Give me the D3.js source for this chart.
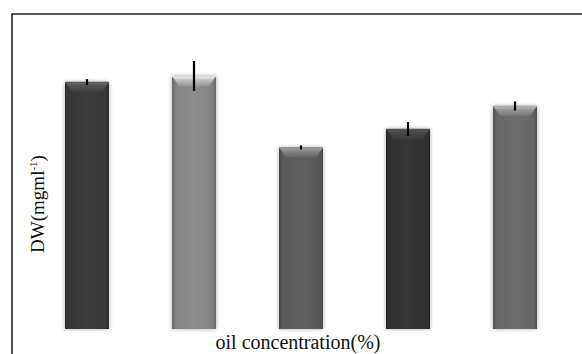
<!DOCTYPE html>
<html>
<head>
<meta charset="utf-8">
<script src="https://cdn.jsdelivr.net/npm/d3@7/dist/d3.min.js"></script>
<style>
  html, body { margin: 0; padding: 0; background: #fff; }
  svg { display: block; }
</style>
</head>
<body>
<svg id="chart" width="582" height="354"></svg>
<script>
// Dry weight by oil concentration
const categories = ["1", "2", "3", "4", "5"];
const values = [2.47, 2.53, 1.815, 2.00, 2.23];
const errors = [0.02, 0.14, 0.01, 0.06, 0.035];
const barColors = ["#3c3c3c", "#8e8e8e", "#606060", "#353535", "#6e6e6e"];
const xTitle = "oil concentration(%)";

const W = 582, H = 354;
const serif = "'Liberation Serif', 'DejaVu Serif', 'Times New Roman', serif";
const svg = d3.select("#chart");
const defs = svg.append("defs");

const plot = { left: 33.5, right: 568.5, top: 14, bottom: 329 };

const x = d3.scaleBand()
  .domain(categories)
  .range([plot.left, plot.right])
  .paddingInner(0.589)
  .paddingOuter(0.2945);

const y = d3.scaleLinear()
  .domain([0, 3.15])
  .range([plot.bottom, plot.top]);

// soft halo behind each bar
const shadow = defs.append("filter").attr("id", "halo")
  .attr("x", "-30%").attr("y", "-10%").attr("width", "160%").attr("height", "120%");
shadow.append("feGaussianBlur").attr("in", "SourceAlpha").attr("stdDeviation", 2.2).attr("result", "b");
shadow.append("feComponentTransfer").attr("in", "b").attr("result", "b2")
  .append("feFuncA").attr("type", "linear").attr("slope", 0.35);
const merge = shadow.append("feMerge");
merge.append("feMergeNode").attr("in", "b2");
merge.append("feMergeNode").attr("in", "SourceGraphic");

// per-bar gradients: darker side edges and a lighter bevelled cap
barColors.forEach((c, i) => {
  const base = d3.color(c);
  const g = defs.append("linearGradient").attr("id", "side" + i)
    .attr("x1", 0).attr("x2", 1).attr("y1", 0).attr("y2", 0);
  [[0, base.darker(0.9)], [0.08, base.darker(0.25)], [0.5, base], [0.92, base.darker(0.25)], [1, base.darker(0.9)]]
    .forEach(([o, col]) => g.append("stop").attr("offset", o).attr("stop-color", col));
  const t = defs.append("linearGradient").attr("id", "cap" + i)
    .attr("x1", 0).attr("x2", 0).attr("y1", 0).attr("y2", 1);
  [[0, base.brighter(1.6)], [0.35, base.brighter(0.9)], [1, base.brighter(0.15)]]
    .forEach(([o, col]) => t.append("stop").attr("offset", o).attr("stop-color", col));
});

// frame
svg.append("path")
  .attr("d", `M12,${H} L12,14 L${W},14`)
  .attr("fill", "none").attr("stroke", "#222").attr("stroke-width", 1.6);

const bars = svg.append("g").selectAll("g.bar")
  .data(categories.map((c, i) => ({ c, v: values[i], e: errors[i], i })))
  .join("g").attr("class", "bar");

bars.append("rect")
  .attr("x", d => x(d.c))
  .attr("y", d => y(d.v))
  .attr("width", x.bandwidth())
  .attr("height", d => y(0) - y(d.v))
  .attr("fill", d => `url(#side${d.i})`)
  .attr("filter", "url(#halo)");

// bevelled top
const capH = 10, inset = 7;
bars.append("path")
  .attr("d", d => {
    const x0 = x(d.c), x1 = x0 + x.bandwidth(), yt = y(d.v);
    return `M${x0},${yt} L${x1},${yt} L${x1 - inset},${yt + capH} L${x0 + inset},${yt + capH} Z`;
  })
  .attr("fill", d => `url(#cap${d.i})`);
bars.append("path")
  .attr("d", d => {
    const x0 = x(d.c), x1 = x0 + x.bandwidth(), yt = y(d.v);
    return `M${x0},${yt + 0.5} L${x1},${yt + 0.5}`;
  })
  .attr("stroke", d => d3.color(barColors[d.i]).brighter(1.2))
  .attr("stroke-width", 1.5);

// error bars
bars.append("line")
  .attr("x1", d => x(d.c) + x.bandwidth() / 2)
  .attr("x2", d => x(d.c) + x.bandwidth() / 2)
  .attr("y1", d => y(d.v + d.e) - 1)
  .attr("y2", d => y(d.v - d.e) + 1)
  .attr("stroke", "#000").attr("stroke-width", 2.2);

// axis titles
svg.append("text")
  .attr("x", 298)
  .attr("y", 349)
  .attr("text-anchor", "middle")
  .attr("font-family", serif)
  .attr("font-size", 20)
  .attr("fill", "#111")
  .text(xTitle);

const yt = svg.append("text")
  .attr("transform", "translate(44,204) rotate(-90)")
  .attr("text-anchor", "middle")
  .attr("font-family", serif)
  .attr("font-size", 19)
  .attr("fill", "#111");
yt.append("tspan").text("DW(mgml");
yt.append("tspan").attr("font-size", 11).attr("dy", -7).text("-1");
yt.append("tspan").attr("dy", 7).text(")");
</script>
</body>
</html>
